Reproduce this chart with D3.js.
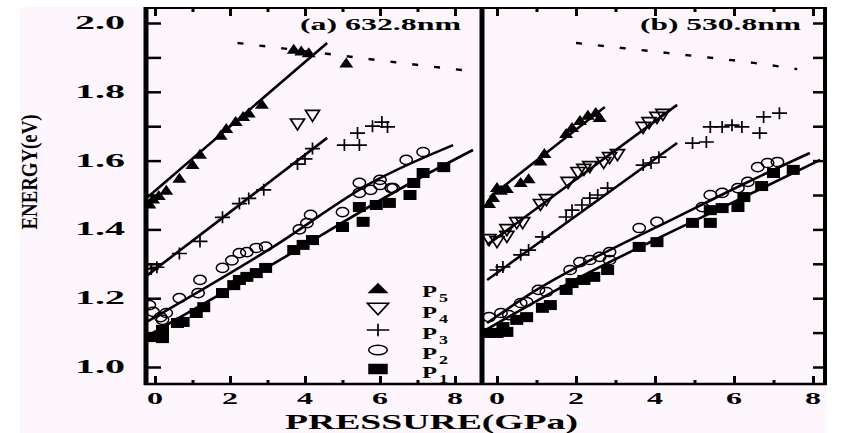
<!DOCTYPE html>
<html>
<head>
<meta charset="utf-8">
<script src="https://cdnjs.cloudflare.com/ajax/libs/d3/7.8.5/d3.min.js"></script>
<style>
  html, body { margin: 0; padding: 0; background: #fff; }
  svg { display: block; }
  text { font-family: "Liberation Serif", "Times New Roman", serif; font-weight: bold; fill: #000; }
</style>
</head>
<body>
<svg id="chart" width="848" height="433"></svg>
<script>
// ---- data (pressure in GPa, energy in eV) ----
const yTicks = [1.0, 1.2, 1.4, 1.6, 1.8, 2.0];
const xTicks = [0, 2, 4, 6, 8];
const legendLabels = ['5', '4', '3', '2', '1'];

// panel (a) 632.8nm
const aP5P = [-0.15, -0.05, 0.1, 0.3, 0.65, 1.0, 1.2, 1.75, 1.9, 2.15, 2.35, 2.5, 2.85, 3.7, 3.9, 4.1, 5.1];
const aP5E = [1.475, 1.49, 1.5, 1.515, 1.55, 1.59, 1.62, 1.675, 1.695, 1.715, 1.73, 1.74, 1.765, 1.925, 1.92, 1.915, 1.885];
const aP4P = [3.8, 4.2];
const aP4E = [1.705, 1.73];
const aP3P = [-0.1, 0.05, 0.65, 1.2, 1.8, 2.25, 2.5, 2.9, 3.8, 4.0, 4.2, 5.05, 5.45, 5.4, 5.8, 6.05, 6.2];
const aP3E = [1.285, 1.29, 1.33, 1.365, 1.435, 1.475, 1.49, 1.515, 1.59, 1.605, 1.635, 1.645, 1.645, 1.68, 1.70, 1.712, 1.698];
const aP2P = [-0.15, -0.05, 0.15, 0.3, 0.2, 0.65, 1.2, 1.15, 1.8, 2.05, 2.25, 2.45, 2.7, 2.95, 3.85, 4.05, 4.15, 5.0, 5.45, 5.75, 6.0, 6.35, 5.45, 6.0, 6.3, 6.7, 7.15];
const aP2E = [1.18, 1.16, 1.145, 1.157, 1.137, 1.2, 1.253, 1.215, 1.288, 1.31, 1.331, 1.334, 1.346, 1.35, 1.4, 1.418, 1.442, 1.45, 1.506, 1.515, 1.529, 1.52, 1.535, 1.544, 1.52, 1.602, 1.625];
const aP1P = [-0.05, 0.2, 0.2, 0.6, 0.75, 1.1, 1.3, 1.8, 2.1, 2.25, 2.45, 2.7, 2.95, 3.7, 3.95, 4.2, 5.0, 5.55, 5.45, 5.9, 6.25, 6.8, 6.9, 7.15, 7.7];
const aP1E = [1.087, 1.084, 1.108, 1.128, 1.131, 1.157, 1.174, 1.215, 1.238, 1.253, 1.262, 1.273, 1.288, 1.34, 1.355, 1.369, 1.407, 1.422, 1.465, 1.471, 1.477, 1.5, 1.535, 1.564, 1.581];

// fitted lines, panel (a)
const aFit5P = [-0.19, 4.59];
const aFit5E = [1.494, 1.942];
const aFit3P = [-0.2, 4.59];
const aFit3E = [1.267, 1.666];
const aFit2P = [-0.27, 3.15, 5.81, 7.95];
const aFit2E = [1.128, 1.349, 1.538, 1.645];
const aFit1P = [-0.21, 3.0, 6.9, 8.48];
const aFit1E = [1.09, 1.29, 1.54, 1.631];
const aDashP = [2.2, 4.4, 6.4, 8.6];
const aDashE = [1.942, 1.913, 1.886, 1.858];

// panel (b) 530.8nm
const bP5P = [-0.2, -0.1, 0, 0.1, 0.25, 0.6, 0.8, 1.1, 1.2, 1.75, 1.9, 2.1, 2.3, 2.5, 2.6];
const bP5E = [1.477, 1.494, 1.523, 1.515, 1.52, 1.538, 1.549, 1.6, 1.622, 1.68, 1.698, 1.718, 1.733, 1.741, 1.727];
const bP4P = [-0.2, 0, 0.25, 0.25, 0.5, 0.65, 1.1, 1.25, 1.8, 2.05, 2.2, 2.35, 2.7, 2.85, 3.05, 3.7, 3.85, 4.05, 4.2];
const bP4E = [1.369, 1.363, 1.378, 1.398, 1.418, 1.418, 1.471, 1.485, 1.535, 1.564, 1.573, 1.581, 1.593, 1.607, 1.616, 1.695, 1.709, 1.724, 1.733];
const bP3P = [0, 0.15, 0.6, 0.8, 1.15, 1.75, 1.9, 2.15, 2.35, 2.55, 2.8, 3.7, 3.9, 4.1, 4.95, 5.3, 5.4, 5.7, 5.95, 6.2, 6.65, 6.75, 7.15];
const bP3E = [1.282, 1.291, 1.326, 1.34, 1.378, 1.436, 1.456, 1.471, 1.491, 1.5, 1.52, 1.587, 1.593, 1.61, 1.651, 1.654, 1.698, 1.698, 1.703, 1.698, 1.68, 1.727, 1.738];
const bP2P = [-0.2, 0.1, 0.3, 0.6, 0.75, 1.05, 1.25, 1.85, 2.1, 2.35, 2.6, 2.85, 2.85, 3.6, 4.05, 5.2, 5.4, 5.7, 6.1, 6.35, 6.6, 6.85, 7.1];
const bP2E = [1.145, 1.157, 1.151, 1.186, 1.189, 1.224, 1.218, 1.282, 1.305, 1.311, 1.32, 1.334, 1.311, 1.404, 1.422, 1.465, 1.5, 1.506, 1.52, 1.538, 1.581, 1.593, 1.596];
const bP1P = [-0.2, 0, 0.25, 0.15, 0.5, 0.75, 1.15, 1.35, 1.75, 1.9, 2.2, 2.45, 2.8, 3.6, 4.05, 4.95, 5.4, 5.4, 5.7, 6.1, 6.25, 6.7, 7.0, 7.5];
const bP1E = [1.099, 1.099, 1.102, 1.116, 1.137, 1.145, 1.172, 1.18, 1.224, 1.244, 1.253, 1.262, 1.282, 1.349, 1.363, 1.419, 1.419, 1.456, 1.462, 1.465, 1.494, 1.526, 1.564, 1.573];

// fitted lines, panel (b)
const bFit5P = [-0.18, 2.73];
const bFit5E = [1.494, 1.756];
const bFit4P = [-0.25, 4.56];
const bFit4E = [1.355, 1.762];
const bFit3P = [-0.25, 4.56];
const bFit3E = [1.253, 1.651];
const bFit2P = [-0.25, 1.0, 2.7, 4.4, 6.3, 7.92];
const bFit2E = [1.128, 1.224, 1.331, 1.427, 1.535, 1.622];
const bFit1P = [-0.25, 2.0, 4.0, 6.0, 8.18];
const bFit1E = [1.11, 1.255, 1.37, 1.48, 1.602];
const bDashP = [2.0, 4.3, 6.5, 7.6];
const bDashE = [1.942, 1.913, 1.884, 1.866];

const zip = (ps, es) => ps.map((p, i) => [p, es[i]]);

// ---- layout ----
const topY = 8, bottomY = 384;
const y = d3.scaleLinear().domain([1.0, 2.0]).range([367, 23]);

const panels = [
  {
    x: d3.scaleLinear().domain([0, 8]).range([155, 455]),
    left: 146, right: 482,
    title: '(a) 632.8nm', titleX: 300,
    points: [
      { kind: 'tri', data: zip(aP5P, aP5E) },
      { kind: 'dtri', data: zip(aP4P, aP4E) },
      { kind: 'plus', data: zip(aP3P, aP3E) },
      { kind: 'circ', data: zip(aP2P, aP2E) },
      { kind: 'sq', data: zip(aP1P, aP1E) }
    ],
    fits: [zip(aFit5P, aFit5E), zip(aFit3P, aFit3E), zip(aFit2P, aFit2E), zip(aFit1P, aFit1E)],
    dash: zip(aDashP, aDashE),
    legend: true
  },
  {
    x: d3.scaleLinear().domain([0, 8]).range([497, 813]),
    left: 482, right: 825,
    title: '(b) 530.8nm', titleX: 640,
    points: [
      { kind: 'tri', data: zip(bP5P, bP5E) },
      { kind: 'dtri', data: zip(bP4P, bP4E) },
      { kind: 'plus', data: zip(bP3P, bP3E) },
      { kind: 'circ', data: zip(bP2P, bP2E) },
      { kind: 'sq', data: zip(bP1P, bP1E) }
    ],
    fits: [zip(bFit5P, bFit5E), zip(bFit4P, bFit4E), zip(bFit3P, bFit3E), zip(bFit2P, bFit2E), zip(bFit1P, bFit1E)],
    dash: zip(bDashP, bDashE),
    legend: false
  }
];

const svg = d3.select('#chart');

// scanned-paper tint
svg.append('rect').attr('x', 20).attr('y', 7).attr('width', 806).attr('height', 426).attr('fill', '#fdf6fc');

// marker drawing; sx/sy stretch the glyph
function marker(g, kind, cx, cy, sx, sy) {
  sx = sx || 1; sy = sy || sx;
  if (kind === 'tri') {
    const w = 7 * sx, h = 5 * sy;
    g.append('path').attr('d', `M${cx - w},${cy + h}L${cx + w},${cy + h}L${cx},${cy - h}Z`).attr('fill', '#000');
  } else if (kind === 'dtri') {
    const w = 7 * sx, h = 5.5 * sy;
    g.append('path').attr('d', `M${cx - w},${cy - h}L${cx + w},${cy - h}L${cx},${cy + h}Z`)
      .attr('fill', 'none').attr('stroke', '#000').attr('stroke-width', 1.7);
  } else if (kind === 'plus') {
    const w = 7.5 * sx, h = 6 * sy;
    g.append('path').attr('d', `M${cx - w},${cy}H${cx + w}M${cx},${cy - h}V${cy + h}`)
      .attr('fill', 'none').attr('stroke', '#000').attr('stroke-width', 1.7);
  } else if (kind === 'circ') {
    g.append('ellipse').attr('cx', cx).attr('cy', cy).attr('rx', 6.2 * sx).attr('ry', 4.6 * sy)
      .attr('fill', 'none').attr('stroke', '#000').attr('stroke-width', 1.5);
  } else if (kind === 'sq') {
    const w = 6.5 * sx, h = 5 * sy;
    g.append('rect').attr('x', cx - w).attr('y', cy - h).attr('width', 2 * w).attr('height', 2 * h).attr('fill', '#000');
  }
}

panels.forEach((pn, i) => {
  const x = pn.x;
  const clipId = 'clip' + i;
  svg.append('clipPath').attr('id', clipId)
    .append('rect').attr('x', pn.left).attr('y', topY).attr('width', pn.right - pn.left).attr('height', bottomY - topY);

  const plot = svg.append('g').attr('clip-path', `url(#${clipId})`);

  const line = d3.line().x(d => x(d[0])).y(d => y(d[1])).curve(d3.curveMonotoneX);

  // dashed boundary
  plot.append('path').datum(pn.dash).attr('d', line)
    .attr('fill', 'none').attr('stroke', '#000').attr('stroke-width', 2.4).attr('stroke-dasharray', '6,16');

  // fits
  pn.fits.forEach(f => {
    plot.append('path').datum(f).attr('d', line)
      .attr('fill', 'none').attr('stroke', '#000').attr('stroke-width', 2.6);
  });

  // points
  pn.points.forEach(ser => {
    ser.data.forEach(d => marker(plot, ser.kind, x(d[0]), y(d[1])));
  });

  // x ticks bottom and top
  const minor = [1, 3, 5, 7];
  const bot = svg.append('g').attr('transform', `translate(0,${bottomY})`);
  bot.call(d3.axisBottom(x).tickValues(xTicks).tickSize(-8).tickFormat(''));
  bot.append('g').call(d3.axisBottom(x).tickValues(minor).tickSize(-4).tickFormat(''));
  const tp = svg.append('g').attr('transform', `translate(0,${topY})`);
  tp.call(d3.axisTop(x).tickValues(xTicks).tickSize(-8).tickFormat(''));
  tp.append('g').call(d3.axisTop(x).tickValues(minor).tickSize(-4).tickFormat(''));
  [bot, tp].forEach(g => {
    g.selectAll('.domain').remove();
    g.selectAll('.tick line').attr('stroke', '#000').attr('stroke-width', 3);
  });

  // x tick labels
  svg.append('g').selectAll('text').data(xTicks).join('text')
    .attr('x', d => x(d)).attr('y', 404).attr('text-anchor', 'middle')
    .attr('font-size', 17).attr('textLength', 16).attr('lengthAdjust', 'spacingAndGlyphs')
    .text(d => d);

  // title
  svg.append('text').attr('x', pn.titleX).attr('y', 30).attr('font-size', 16)
    .attr('textLength', 161).attr('lengthAdjust', 'spacingAndGlyphs').text(pn.title);

  // legend
  if (pn.legend) {
    const rows = [288, 309, 330, 350, 369];
    const kinds = ['tri', 'dtri', 'plus', 'circ', 'sq'];
    const lg = svg.append('g');
    kinds.forEach((k, j) => {
      marker(lg, k, 378, rows[j], 1.5, 1.05);
      lg.append('text').attr('x', 422).attr('y', rows[j] + 9).attr('font-size', 17)
        .attr('textLength', 15).attr('lengthAdjust', 'spacingAndGlyphs').text('P');
      lg.append('text').attr('x', 439).attr('y', rows[j] + 14).attr('font-size', 12)
        .attr('textLength', 9).attr('lengthAdjust', 'spacingAndGlyphs').text(legendLabels[j]);
    });
  }
});

// y ticks: left of panel (a), right of panel (b)
const yMinor = d3.range(10, 21).map(v => v / 10);
const ly = svg.append('g').attr('transform', 'translate(146,0)')
  .call(d3.axisLeft(y).tickValues(yMinor).tickSize(-15).tickFormat(''));
const ry = svg.append('g').attr('transform', 'translate(825,0)')
  .call(d3.axisRight(y).tickValues(yMinor).tickSize(-12).tickFormat(''));
[ly, ry].forEach(g => {
  g.selectAll('.domain').remove();
  g.selectAll('.tick line').attr('stroke', '#000').attr('stroke-width', 2.5);
});

// y tick labels
svg.append('g').selectAll('text').data(yTicks).join('text')
  .attr('x', 125).attr('y', d => y(d) + 6).attr('text-anchor', 'end')
  .attr('font-size', 18).attr('textLength', 50).attr('lengthAdjust', 'spacingAndGlyphs')
  .text(d => d.toFixed(1));

// frame
const frame = svg.append('g').attr('stroke', '#000').attr('fill', 'none');
frame.append('line').attr('x1', 146).attr('x2', 146).attr('y1', topY - 1).attr('y2', bottomY + 1).attr('stroke-width', 5);
frame.append('line').attr('x1', 482).attr('x2', 482).attr('y1', topY - 1).attr('y2', bottomY + 1).attr('stroke-width', 5);
frame.append('line').attr('x1', 825).attr('x2', 825).attr('y1', topY - 1).attr('y2', bottomY + 1).attr('stroke-width', 4);
frame.append('line').attr('x1', 144).attr('x2', 827).attr('y1', topY).attr('y2', topY).attr('stroke-width', 2);
frame.append('line').attr('x1', 144).attr('x2', 827).attr('y1', bottomY).attr('y2', bottomY).attr('stroke-width', 2.5);

// axis titles
svg.append('text').attr('x', 285).attr('y', 429).attr('font-size', 21)
  .attr('textLength', 293).attr('lengthAdjust', 'spacingAndGlyphs').text('PRESSURE(GPa)');
svg.append('text').attr('transform', 'translate(37,172) rotate(-90)').attr('text-anchor', 'middle')
  .attr('font-size', 23).attr('textLength', 115).attr('lengthAdjust', 'spacingAndGlyphs').text('ENERGY(eV)');
</script>
</body>
</html>
